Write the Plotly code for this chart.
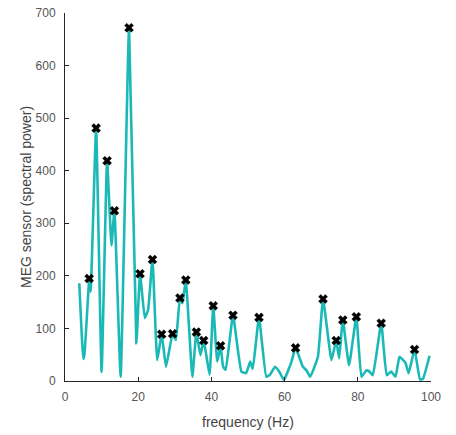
import plotly.graph_objects as go

# Spectral power of one MEG sensor, sampled along frequency (Hz)
freq = [3.9, 5.0, 5.3, 6.4, 6.6, 7.0, 8.5, 10.0, 11.5, 12.7, 13.5, 15.2, 17.5,
        19.5, 20.5, 21.8, 22.7, 23.9, 25.2, 26.4, 27.6, 29.4, 30.3, 31.4, 32.1,
        33.0, 34.8, 35.9, 37.0, 37.9, 39.5, 40.5, 41.6, 42.5, 43.2, 43.9, 45.9,
        48.2, 49.5, 50.6, 51.3, 53.0, 55.0, 56.0, 57.4, 58.6, 59.8, 61.8, 63.0,
        65.0, 66.0, 67.0, 69.1, 70.5, 72.8, 74.1, 74.9, 75.9, 77.6, 79.6, 81.0,
        82.3, 83.0, 84.1, 86.4, 87.9, 89.1, 90.3, 91.4, 93.0, 93.9, 95.5, 97.0,
        97.8, 99.6]
power = [186, 42, 50, 172, 195, 170, 481, 17, 419, 258, 324, 8, 672,
         72, 204, 120, 135, 231, 40, 89, 27, 90, 78, 158, 148,
         192, 8, 93, 49, 77, 12, 143, 37, 67, 27, 21, 125,
         18, 15, 37, 23, 121, 8, 12, 27, 17, 2, 35, 63,
         27, 20, 8, 46, 156, 40, 77, 43, 116, 30, 122, 8,
         20, 19, 11, 110, 11, 18, 8, 46, 35, 15, 60, 3,
         4, 48]

# Frequencies of the detected spectral peaks
peak_freq = [6.6, 8.5, 11.5, 13.5, 17.5, 20.5, 23.9, 26.4, 29.4, 31.4, 33.0,
             35.9, 37.9, 40.5, 42.5, 45.9, 53.0, 63.0, 70.5, 74.1, 75.9, 79.6,
             86.4, 95.5]
lookup = dict(zip(freq, power))
peak_power = [lookup[f] for f in peak_freq]

x_ticks = [0, 20, 40, 60, 80, 100]
y_ticks = [0, 100, 200, 300, 400, 500, 600, 700]

fig = go.Figure()
fig.add_trace(go.Scatter(
    x=freq, y=power, mode="lines",
    line=dict(color="#1bb9b6", width=2.6, shape="spline", smoothing=0.35),
    hoverinfo="x+y",
))
fig.add_trace(go.Scatter(
    x=peak_freq, y=peak_power, mode="markers",
    marker=dict(symbol="x", size=8, color="black",
                line=dict(width=0.4, color="black")),
))

font_family = "Liberation Sans, Arial, sans-serif"
title_font = dict(family=font_family, size=14, color="#444444")
axis_common = dict(
    showgrid=False, zeroline=False, showline=True, automargin=False,
    linecolor="#262626", linewidth=1,
    ticks="inside", ticklen=4, tickcolor="#262626",
    tickfont=dict(family=font_family, size=12, color="#555555"),
    mirror=False,
)

fig.update_layout(
    width=456, height=435,
    margin=dict(l=65, r=25, t=13, b=54),
    paper_bgcolor="white", plot_bgcolor="white",
    showlegend=False,
    xaxis=dict(range=[0, 100], tickvals=x_ticks, ticklabelstandoff=5, **axis_common),
    yaxis=dict(range=[0, 700], tickvals=y_ticks, ticklabelstandoff=6, **axis_common),
    annotations=[
        dict(text="frequency (Hz)", xref="paper", yref="paper", x=0.5, y=0,
             xanchor="center", yanchor="middle", yshift=-41, showarrow=False,
             font=title_font),
        dict(text="MEG sensor (spectral power)", xref="paper", yref="paper",
             x=0, y=0.5, xanchor="center", yanchor="middle", xshift=-39,
             textangle=-90, showarrow=False, font=title_font),
    ],
)

fig.write_html("out.html")
